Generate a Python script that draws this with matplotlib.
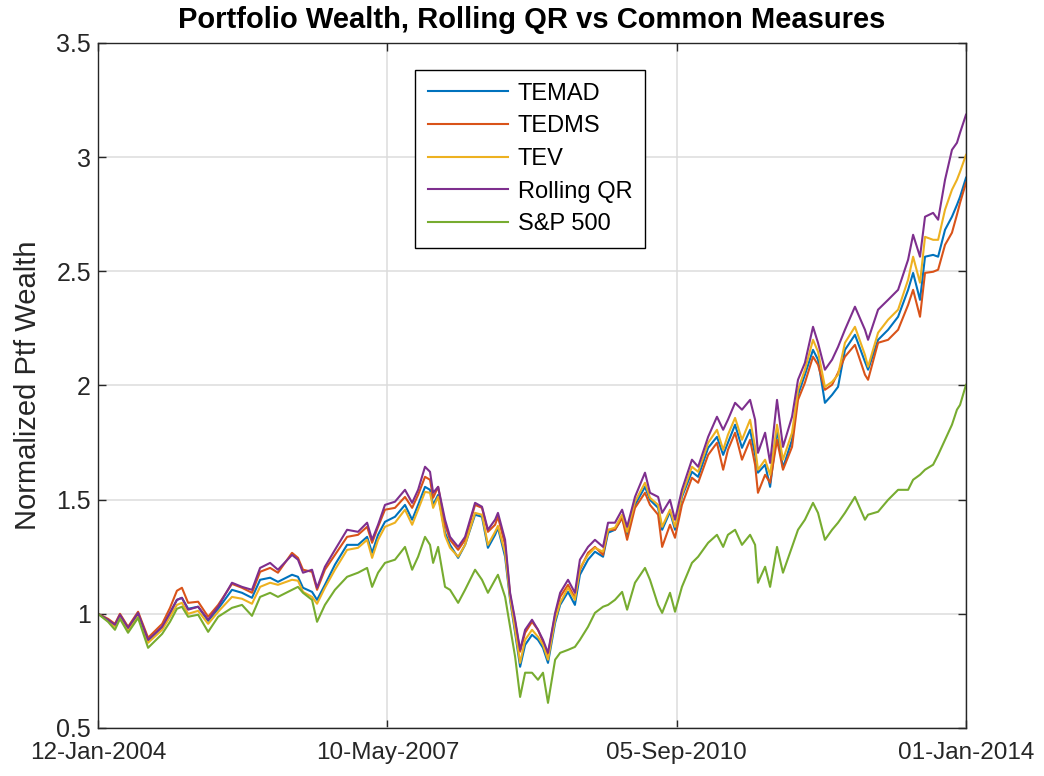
import pandas as pd
import matplotlib
matplotlib.use("Agg")
import matplotlib.pyplot as plt

plt.rcParams['font.family'] = ['Liberation Sans', 'DejaVu Sans']

# dates
dates = [
    '2004-01-12', '2004-02-23', '2004-03-23', '2004-04-13', '2004-05-17', '2004-06-28',
    '2004-08-09', '2004-10-07', '2004-11-09', '2004-12-08', '2004-12-29', '2005-01-24',
    '2005-03-07', '2005-04-18', '2005-05-30', '2005-07-27', '2005-09-07', '2005-10-19',
    '2005-11-22', '2006-01-03', '2006-02-05', '2006-04-05', '2006-04-30', '2006-05-21',
    '2006-06-28', '2006-07-19', '2006-08-21', '2006-10-02', '2006-11-22', '2007-01-07',
    '2007-02-14', '2007-03-07', '2007-04-01', '2007-04-30', '2007-06-11', '2007-07-23',
    '2007-08-22', '2007-09-16', '2007-10-15', '2007-11-05', '2007-11-18', '2007-12-09',
    '2008-01-07', '2008-01-28', '2008-03-02', '2008-03-31', '2008-05-12', '2008-06-10',
    '2008-07-05', '2008-08-04', '2008-08-16', '2008-09-15', '2008-10-06', '2008-10-27',
    '2008-11-17', '2008-12-08', '2009-01-06', '2009-01-31', '2009-02-21', '2009-03-14',
    '2009-04-13', '2009-05-04', '2009-06-06', '2009-07-05', '2009-07-26', '2009-08-29',
    '2009-09-27', '2009-10-31', '2009-11-21', '2009-12-20', '2010-01-19', '2010-02-09',
    '2010-03-14', '2010-04-25', '2010-05-16', '2010-06-19', '2010-07-06', '2010-08-08',
    '2010-08-29', '2010-09-27', '2010-11-08', '2010-12-04', '2011-01-15', '2011-02-21',
    '2011-03-19', '2011-04-08', '2011-05-08', '2011-06-06', '2011-07-10', '2011-07-31',
    '2011-08-12', '2011-09-11', '2011-10-02', '2011-10-31', '2011-11-25', '2012-01-02',
    '2012-01-27', '2012-02-25', '2012-03-30', '2012-04-20', '2012-05-19', '2012-06-18',
    '2012-07-13', '2012-08-11', '2012-09-22', '2012-11-03', '2012-11-16', '2012-12-28',
    '2013-02-08', '2013-03-22', '2013-05-03', '2013-05-24', '2013-06-22', '2013-07-13',
    '2013-08-16', '2013-09-06', '2013-10-05', '2013-11-03', '2013-11-24', '2013-12-07',
    '2014-01-01',
]

temad = [
    1.000, 0.974, 0.952, 0.991, 0.934, 1.000, 0.882, 0.943, 1.004, 1.061, 1.070, 1.022,
    1.031, 0.969, 1.022, 1.105, 1.092, 1.070, 1.149, 1.158, 1.140, 1.171, 1.162, 1.114,
    1.096, 1.061, 1.127, 1.215, 1.302, 1.302, 1.337, 1.267, 1.346, 1.403, 1.425, 1.477,
    1.412, 1.477, 1.556, 1.543, 1.477, 1.521, 1.355, 1.302, 1.245, 1.302, 1.434, 1.425,
    1.289, 1.346, 1.377, 1.250, 1.061, 0.917, 0.768, 0.864, 0.908, 0.886, 0.851, 0.785,
    0.961, 1.039, 1.096, 1.039, 1.171, 1.237, 1.272, 1.250, 1.355, 1.368, 1.420, 1.346,
    1.477, 1.556, 1.499, 1.464, 1.368, 1.447, 1.368, 1.512, 1.622, 1.600, 1.727, 1.775,
    1.696, 1.749, 1.828, 1.727, 1.806, 1.696, 1.618, 1.653, 1.556, 1.806, 1.639, 1.762,
    1.959, 2.047, 2.156, 2.113, 1.924, 1.959, 1.994, 2.156, 2.222, 2.104, 2.069, 2.200,
    2.244, 2.301, 2.419, 2.493, 2.375, 2.564, 2.572, 2.564, 2.682, 2.739, 2.791, 2.826,
    2.910,
]

tedms = [
    1.000, 0.978, 0.956, 1.000, 0.943, 1.009, 0.895, 0.956, 1.026, 1.101, 1.114, 1.048,
    1.053, 0.987, 1.039, 1.131, 1.114, 1.092, 1.184, 1.201, 1.180, 1.267, 1.245, 1.193,
    1.184, 1.105, 1.193, 1.258, 1.337, 1.346, 1.381, 1.311, 1.381, 1.456, 1.464, 1.512,
    1.464, 1.521, 1.600, 1.587, 1.508, 1.556, 1.390, 1.324, 1.280, 1.324, 1.477, 1.464,
    1.359, 1.390, 1.425, 1.302, 1.083, 0.965, 0.834, 0.917, 0.965, 0.930, 0.877, 0.820,
    0.996, 1.074, 1.127, 1.070, 1.193, 1.267, 1.293, 1.258, 1.368, 1.368, 1.420, 1.324,
    1.464, 1.530, 1.477, 1.434, 1.293, 1.390, 1.333, 1.477, 1.596, 1.574, 1.696, 1.749,
    1.631, 1.718, 1.793, 1.675, 1.762, 1.653, 1.530, 1.609, 1.574, 1.762, 1.631, 1.731,
    1.937, 2.012, 2.126, 2.091, 1.981, 2.003, 2.056, 2.126, 2.178, 2.047, 2.025, 2.187,
    2.200, 2.244, 2.353, 2.419, 2.301, 2.493, 2.498, 2.507, 2.616, 2.669, 2.748, 2.800,
    2.888,
]

tev = [
    1.000, 0.969, 0.943, 0.982, 0.926, 0.987, 0.873, 0.930, 0.987, 1.039, 1.048, 1.000,
    1.013, 0.956, 1.009, 1.074, 1.066, 1.044, 1.118, 1.136, 1.127, 1.149, 1.145, 1.096,
    1.074, 1.044, 1.114, 1.193, 1.280, 1.289, 1.324, 1.245, 1.324, 1.381, 1.399, 1.456,
    1.390, 1.456, 1.534, 1.530, 1.464, 1.512, 1.342, 1.289, 1.250, 1.302, 1.442, 1.434,
    1.302, 1.359, 1.385, 1.267, 1.070, 0.930, 0.785, 0.886, 0.930, 0.899, 0.864, 0.799,
    0.974, 1.048, 1.114, 1.061, 1.201, 1.258, 1.289, 1.272, 1.368, 1.377, 1.434, 1.359,
    1.491, 1.574, 1.508, 1.477, 1.381, 1.456, 1.381, 1.521, 1.644, 1.622, 1.749, 1.806,
    1.718, 1.784, 1.858, 1.762, 1.850, 1.731, 1.631, 1.675, 1.609, 1.828, 1.675, 1.793,
    1.981, 2.069, 2.200, 2.148, 1.994, 2.016, 2.047, 2.187, 2.257, 2.134, 2.082, 2.231,
    2.288, 2.332, 2.463, 2.564, 2.450, 2.651, 2.638, 2.638, 2.770, 2.857, 2.901, 2.936,
    3.010,
]

rolling_qr = [
    1.000, 0.974, 0.952, 0.996, 0.939, 1.004, 0.886, 0.943, 1.004, 1.061, 1.070, 1.018,
    1.031, 0.974, 1.031, 1.136, 1.118, 1.105, 1.201, 1.223, 1.193, 1.258, 1.237, 1.180,
    1.193, 1.114, 1.206, 1.280, 1.368, 1.359, 1.399, 1.324, 1.390, 1.477, 1.491, 1.543,
    1.486, 1.543, 1.644, 1.622, 1.530, 1.556, 1.412, 1.337, 1.293, 1.337, 1.486, 1.469,
    1.368, 1.412, 1.442, 1.324, 1.092, 0.974, 0.842, 0.930, 0.974, 0.930, 0.886, 0.829,
    1.004, 1.092, 1.149, 1.092, 1.237, 1.293, 1.324, 1.293, 1.399, 1.399, 1.456, 1.381,
    1.512, 1.618, 1.530, 1.512, 1.442, 1.499, 1.412, 1.543, 1.675, 1.644, 1.775, 1.863,
    1.806, 1.850, 1.924, 1.894, 1.937, 1.850, 1.705, 1.793, 1.661, 1.937, 1.731, 1.863,
    2.025, 2.099, 2.257, 2.187, 2.069, 2.113, 2.169, 2.244, 2.345, 2.244, 2.200, 2.332,
    2.375, 2.419, 2.551, 2.660, 2.564, 2.739, 2.756, 2.726, 2.901, 3.032, 3.063, 3.107,
    3.186,
]

sp500 = [
    1.000, 0.965, 0.930, 0.978, 0.917, 0.982, 0.851, 0.912, 0.965, 1.022, 1.031, 0.987,
    0.996, 0.921, 0.987, 1.026, 1.039, 0.991, 1.074, 1.092, 1.074, 1.105, 1.118, 1.092,
    1.061, 0.965, 1.039, 1.105, 1.162, 1.180, 1.201, 1.118, 1.180, 1.223, 1.237, 1.293,
    1.193, 1.250, 1.337, 1.302, 1.223, 1.293, 1.118, 1.105, 1.048, 1.105, 1.193, 1.149,
    1.092, 1.149, 1.171, 1.074, 0.943, 0.812, 0.636, 0.742, 0.742, 0.711, 0.742, 0.610,
    0.799, 0.829, 0.842, 0.855, 0.886, 0.943, 1.004, 1.031, 1.039, 1.061, 1.096, 1.018,
    1.136, 1.201, 1.149, 1.039, 1.004, 1.092, 1.009, 1.118, 1.223, 1.250, 1.311, 1.346,
    1.293, 1.346, 1.368, 1.302, 1.346, 1.302, 1.136, 1.206, 1.118, 1.293, 1.180, 1.293,
    1.368, 1.412, 1.486, 1.442, 1.324, 1.368, 1.399, 1.442, 1.512, 1.412, 1.434, 1.447,
    1.499, 1.543, 1.543, 1.587, 1.609, 1.631, 1.653, 1.696, 1.762, 1.828, 1.894, 1.915,
    2.003,
]

labels = ['TEMAD', 'TEDMS', 'TEV', 'Rolling QR', 'S&P 500']
series = [temad, tedms, tev, rolling_qr, sp500]
colors = ['#0072BD', '#D95319', '#EDB120', '#7E2F8E', '#77AC30']

tick_dates = ['2004-01-12', '2007-05-10', '2010-09-05', '2014-01-01']
tick_labels = ['12-Jan-2004', '10-May-2007', '05-Sep-2010', '01-Jan-2014']

x = pd.to_datetime(dates)

fig = plt.figure(figsize=(10.44, 7.76), dpi=100)
ax = fig.add_axes([0.0939, 0.0619, 0.8314, 0.8827])

for vals, lab, c in zip(series, labels, colors):
    ax.plot(x, vals, color=c, lw=1.5, label=lab)

ax.set_xlim(pd.Timestamp(dates[0]), pd.Timestamp(dates[-1]))
ax.set_ylim(0.5, 3.5)
ax.set_xticks(pd.to_datetime(tick_dates))
ax.set_xticklabels(tick_labels)
yt = [0.5, 1, 1.5, 2, 2.5, 3, 3.5]
ax.set_yticks(yt)
ax.set_yticklabels(['%g' % v for v in yt])

ax.grid(True, color='#dcdcdc', lw=1.1)
ax.set_axisbelow(True)
for s in ax.spines.values():
    s.set_color('#262626')
    s.set_linewidth(1.0)
ax.tick_params(direction='in', length=6, width=1, colors='#262626',
               labelsize=18, top=True, right=True, pad=5)
ax.tick_params(axis='x', pad=10, labelsize=17.5)

ax.set_ylabel('Normalized Ptf Wealth', fontsize=21, color='#262626', labelpad=10)
ax.set_title('Portfolio Wealth, Rolling QR vs Common Measures',
             fontsize=21, fontweight='bold', pad=11)

leg = ax.legend(loc='upper left', bbox_to_anchor=(0.365, 0.961), borderaxespad=0,
                fontsize=17, handlelength=3.4, handletextpad=0.4, labelspacing=0.45,
                borderpad=0.55, fancybox=False, framealpha=1, edgecolor='black')
leg.get_frame().set_linewidth(1.0)

fig.savefig('out.png', dpi=100)
